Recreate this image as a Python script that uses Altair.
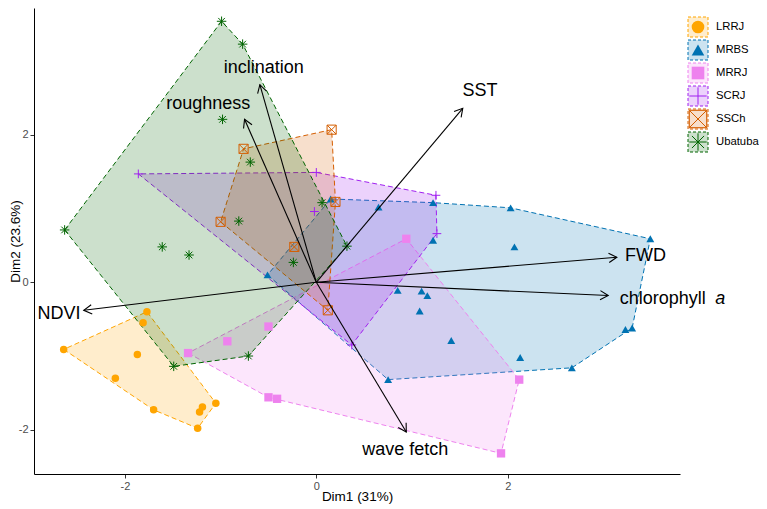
import math
import pandas as pd
import altair as alt

# groups and colours
groups = ["LRRJ", "MRBS", "MRRJ", "SCRJ", "SSCh", "Ubatuba"]
colors = ["#FFA500", "#0072B2", "#EE82EE", "#A020F0", "#D55E00", "#006400"]

# individual coordinates (Dim1, Dim2)
lrrj_x = [-1.77, -1.81, -2.64, -1.87, -2.10, -1.70, -1.19, -1.22, -1.05, -1.24]
lrrj_y = [-0.40, -0.55, -0.91, -0.98, -1.30, -1.73, -1.69, -1.76, -1.64, -1.98]

mrbs_x = [0.65, 1.22, 2.03, 3.49, 2.07, 1.22, 0.85, 1.10, 1.16, 1.08, 1.41, 2.13,
          2.67, 3.23, 3.30, 0.75, 0.15, -0.51]
mrbs_y = [1.02, 1.08, 1.01, 0.59, 0.48, 0.57, -0.11, -0.12, -0.18, -0.39, -0.79, -1.02,
          -1.16, -0.64, -0.62, -1.32, 1.13, 0.10]

mrrj_x = [-1.34, -0.93, -0.50, -0.50, -0.41, 0.94, 2.12, 1.93]
mrrj_y = [-0.96, -0.80, -0.60, -1.56, -1.58, 0.59, -1.32, -2.32]

scrj_x = [-1.86, 0.00, -0.02, 1.25, 1.26, 0.37]
scrj_y = [1.47, 1.49, 0.96, 1.18, 0.66, -0.85]

ssch_x = [0.16, -0.76, -1.00, 0.20, -0.23, 0.12]
ssch_y = [2.07, 1.81, 0.82, 1.09, 0.48, -0.38]

uba_x = [-0.99, -0.77, -0.98, -0.69, -0.81, -2.63, 0.06, -1.61, -1.33, -0.24, -1.49, -0.71, 0.32]
uba_y = [3.54, 3.23, 2.21, 1.63, 0.83, 0.71, 1.08, 0.48, 0.37, 0.27, -1.14, -1.00, 0.49]

# variable arrows (end points) and their labels
var_names = ["inclination", "roughness", "SST", "FWD", "chlorophyll", "NDVI", "wave fetch"]
arrow_x = [-0.59, -0.75, 1.53, 3.14, 3.05, -2.43, 0.94]
arrow_y = [2.68, 2.21, 2.36, 0.34, -0.18, -0.38, -2.03]
label_x = [-0.55, -1.13, 1.71, 3.44, 3.62, -2.69, 0.93]
label_y = [2.91, 2.42, 2.59, 0.35, -0.22, -0.43, -2.27]
italic_text = ["a"]
italic_x = [4.22]
italic_y = [-0.22]

W, H = 646, 466
XDOM = [-2.95, 3.80]
YDOM = [-2.60, 3.72]
FONT = "Liberation Sans"

PLUS = "M-1,0L1,0M0,-1L0,1"
SQX = "M-1,-1L1,-1L1,1L-1,1ZM-1,-1L1,1M-1,1L1,-1"
AST = "M-1,0L1,0M0,-1L0,1M-0.7,-0.7L0.7,0.7M-0.7,0.7L0.7,-0.7"
ARROW = "M-1,-0.577L0,0L-1,0.577"
shapes = ["circle", "triangle-up", "square", PLUS, SQX, AST]
filled_groups = ["LRRJ", "MRBS", "MRRJ"]
open_groups = ["SCRJ", "SSCh", "Ubatuba"]

xs = [lrrj_x, mrbs_x, mrrj_x, scrj_x, ssch_x, uba_x]
ys = [lrrj_y, mrbs_y, mrrj_y, scrj_y, ssch_y, uba_y]

points = pd.concat(
    [pd.DataFrame({"group": g, "x": x, "y": y}) for g, x, y in zip(groups, xs, ys)],
    ignore_index=True,
)


def convex_hull(pts):
    pts = sorted(set(pts))

    def cross(o, a, b):
        return (a[0] - o[0]) * (b[1] - o[1]) - (a[1] - o[1]) * (b[0] - o[0])

    lower, upper = [], []
    for p in pts:
        while len(lower) >= 2 and cross(lower[-2], lower[-1], p) <= 0:
            lower.pop()
        lower.append(p)
    for p in reversed(pts):
        while len(upper) >= 2 and cross(upper[-2], upper[-1], p) <= 0:
            upper.pop()
        upper.append(p)
    ring = lower[:-1] + upper[:-1]
    return ring + [ring[0]]


hull_rows = []
for g, x, y in zip(groups, xs, ys):
    for i, (hx, hy) in enumerate(convex_hull(list(zip(x, y)))):
        hull_rows.append({"group": g, "x": hx, "y": hy, "idx": i})
hulls_df = pd.DataFrame(hull_rows)

kx = W / (XDOM[1] - XDOM[0])
ky = H / (YDOM[1] - YDOM[0])
arrows = pd.DataFrame({"var": var_names, "x": arrow_x, "y": arrow_y})
arrows["x0"] = 0.0
arrows["y0"] = 0.0
arrows["ang"] = [math.degrees(math.atan2(-y * ky, x * kx)) % 360 for x, y in zip(arrow_x, arrow_y)]
labels = pd.DataFrame({"label": var_names, "x": label_x, "y": label_y})
italics = pd.DataFrame({"label": italic_text, "x": italic_x, "y": italic_y})

x_scale = alt.Scale(domain=XDOM, nice=False, zero=False)
y_scale = alt.Scale(domain=YDOM, nice=False, zero=False)
col_scale = alt.Scale(domain=groups, range=colors)
shape_scale = alt.Scale(domain=groups, range=shapes)
size_scale = alt.Scale(domain=groups, range=[56, 90, 49, 90, 64, 100])

axis_style = dict(values=[-2, 0, 2], grid=False, domainColor="black", tickColor="#333333",
                  tickSize=4, labelPadding=2, labelColor="#4D4D4D", labelFontSize=11,
                  labelExpr="'' + datum.value", titleFontSize=13.5, titleFontWeight="normal",
                  titleBaseline="middle", labelFont=FONT, titleFont=FONT)
x_axis = alt.Axis(title="Dim1 (31%)", titleY=22, **axis_style)
y_axis = alt.Axis(title="Dim2 (23.6%)", titleX=-19, **axis_style)

hulls = alt.Chart(hulls_df).mark_line(strokeDash=[5, 3], strokeWidth=1, fillOpacity=0.2).encode(
    x=alt.X("x:Q", scale=x_scale, axis=x_axis),
    y=alt.Y("y:Q", scale=y_scale, axis=y_axis),
    fill=alt.Fill("group:N", scale=col_scale, legend=None),
    stroke=alt.Stroke("group:N", scale=col_scale, legend=None),
    detail="group:N",
    order="idx:Q",
)

solid_pts = alt.Chart(points).mark_point(filled=True, opacity=1, strokeWidth=0).encode(
    x="x:Q", y="y:Q",
    fill=alt.Fill("group:N", scale=col_scale, legend=None),
    shape=alt.Shape("group:N", scale=shape_scale, legend=None),
    size=alt.Size("group:N", scale=size_scale, legend=None),
).transform_filter(alt.FieldOneOfPredicate(field="group", oneOf=filled_groups))

open_pts = alt.Chart(points).mark_point(filled=False, opacity=1, strokeWidth=1).encode(
    x="x:Q", y="y:Q",
    stroke=alt.Stroke("group:N", scale=col_scale, legend=None),
    shape=alt.Shape("group:N", scale=shape_scale, legend=None),
    size=alt.Size("group:N", scale=size_scale, legend=None),
).transform_filter(alt.FieldOneOfPredicate(field="group", oneOf=open_groups))

rules = alt.Chart(arrows).mark_rule(color="black", strokeWidth=1.1).encode(
    x="x0:Q", y="y0:Q", x2="x:Q", y2="y:Q"
)
heads = alt.Chart(arrows).mark_point(shape=ARROW, size=256, filled=False, color="black",
                                     strokeWidth=1.1, opacity=1).encode(
    x="x:Q", y="y:Q", angle=alt.Angle("ang:Q", scale=None)
)
texts = alt.Chart(labels).mark_text(font=FONT, fontSize=18, color="black", baseline="middle").encode(
    x="x:Q", y="y:Q", text="label:N"
)
ital = alt.Chart(italics).mark_text(font=FONT, fontSize=18, fontStyle="italic", color="black",
                                    baseline="middle").encode(
    x="x:Q", y="y:Q", text="label:N"
)

main = alt.layer(hulls, solid_pts, open_pts, rules, heads, texts, ital)

# legend drawn to the right of the panel
KEY_X = 664
legend_df = pd.DataFrame({"group": groups, "rank": list(range(len(groups)))})
leg_y = alt.Y("rank:Q", scale=alt.Scale(domain=[0, 5], range=[19, 134]), axis=None)
leg_box = alt.Chart(legend_df).mark_point(shape="square", size=400, filled=True, fillOpacity=0.2,
                                          strokeOpacity=1, strokeWidth=1, strokeDash=[3, 2]).encode(
    x=alt.value(KEY_X), y=leg_y,
    fill=alt.Fill("group:N", scale=col_scale, legend=None),
    stroke=alt.Stroke("group:N", scale=col_scale, legend=None),
)
leg_solid = alt.Chart(legend_df).mark_point(filled=True, opacity=1, strokeWidth=0, size=160).encode(
    x=alt.value(KEY_X), y=leg_y,
    fill=alt.Fill("group:N", scale=col_scale, legend=None),
    shape=alt.Shape("group:N", scale=shape_scale, legend=None),
).transform_filter(alt.FieldOneOfPredicate(field="group", oneOf=filled_groups))
leg_open = alt.Chart(legend_df).mark_point(filled=False, opacity=1, strokeWidth=1, size=300).encode(
    x=alt.value(KEY_X), y=leg_y,
    stroke=alt.Stroke("group:N", scale=col_scale, legend=None),
    shape=alt.Shape("group:N", scale=shape_scale, legend=None),
).transform_filter(alt.FieldOneOfPredicate(field="group", oneOf=open_groups))
leg_text = alt.Chart(legend_df).mark_text(font=FONT, fontSize=11.3, align="left", baseline="middle",
                                          color="black").encode(
    x=alt.value(KEY_X + 18), y=leg_y, text="group:N"
)
legend = alt.layer(leg_box, leg_solid, leg_open, leg_text)

chart = alt.layer(main, legend).resolve_scale(y="independent").properties(
    width=W, height=H,
    autosize=alt.AutoSizeParams(type="none"),
    padding={"left": 26, "top": 0, "right": 79, "bottom": 31},
    background="white",
).configure_view(stroke=None)

chart.save("out.html", embed_options={"renderer": "svg", "actions": False})
